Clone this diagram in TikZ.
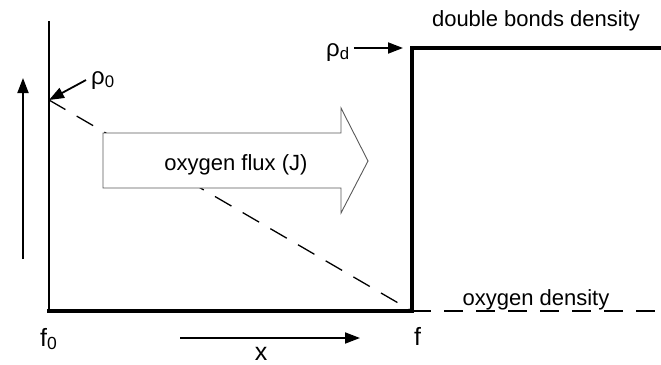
\documentclass[tikz,border=0pt]{standalone}
\usepackage{fontspec}
\setmainfont{Liberation Sans}
\usetikzlibrary{arrows.meta, positioning}

\begin{document}
\begin{tikzpicture}[x=1pt, y=-1pt, >={Triangle[length=15pt,width=11pt]},
    font=\fontsize{22}{26}\selectfont,
    thinline/.style={line width=1.8pt},
    boldline/.style={line width=4.6pt, line join=miter},
    dashline/.style={line width=1.3pt, dash pattern=on 19pt off 13pt},
    fluxarrow/.style={draw=black!65, fill=white, line width=0.9pt},
    lbl/.style={inner sep=0pt, anchor=base},
    biglbl/.style={inner sep=0pt, anchor=base west, font=\fontsize{25}{28}\selectfont},
    rholbl/.style={inner sep=0pt, anchor=base west, font=\fontsize{24}{28}\selectfont}]
    \useasboundingbox (0,0) rectangle (661,364);

    % corners of the profile
    \coordinate (axtop) at (49,21);
    \coordinate (f0) at (49,311);
    \coordinate (f) at (412,311);
    \coordinate (fd) at (412,48);
    \coordinate (dend) at (661,48);
    \coordinate (oend) at (661,311);
    \coordinate (rho0pt) at (49,100);

    % oxygen density (dashed)
    \draw[dashline] (rho0pt) -- (f);
    \draw[dashline] (f) -- (oend);

    % flux arrow
    \draw[fluxarrow] (103,133) -- (341,133) -- (341,108) -- (368,161)
        -- (341,213) -- (341,188) -- (103,188) -- cycle;
    \node[lbl] (flux) at (236,170) {oxygen flux (J)};

    % axis and double bonds density
    \draw[thinline] (axtop) -- (f0);
    \draw[boldline] ([xshift=-2pt]f0) -- (f) -- (fd) -- (dend);

    % direction arrows
    \coordinate (upbot) at (23,259);
    \coordinate (uptop) at (23,78);
    \draw[thinline,->] (upbot) -- (uptop);
    \coordinate (xtail) at (180,338);
    \coordinate (xtip) at (360,338);
    \draw[thinline,->] (xtail) -- (xtip);

    % labels
    \node[rholbl] (rho0) at (91,84) {ρ\textsubscript{0}};
    \draw[thinline,->] ([xshift=-5pt]rho0.west) -- (rho0pt);
    \node[rholbl] (rhod) at (326,56) {ρ\textsubscript{d}};
    \draw[thinline,->] ([xshift=4pt]rhod.east |- fd) -- ([xshift=-9pt]fd);

    \node[biglbl] (f0lbl) at (40,346) {f\textsubscript{0}};
    \node[biglbl] (flbl) at (414,345) {f};
    \node[biglbl, anchor=base] (xlbl) at (261,360) {x};
    \node[lbl] (dbd) at (536,27) {double bonds density};
    \node[lbl] (od) at (536,305) {oxygen density};
\end{tikzpicture}
\end{document}
